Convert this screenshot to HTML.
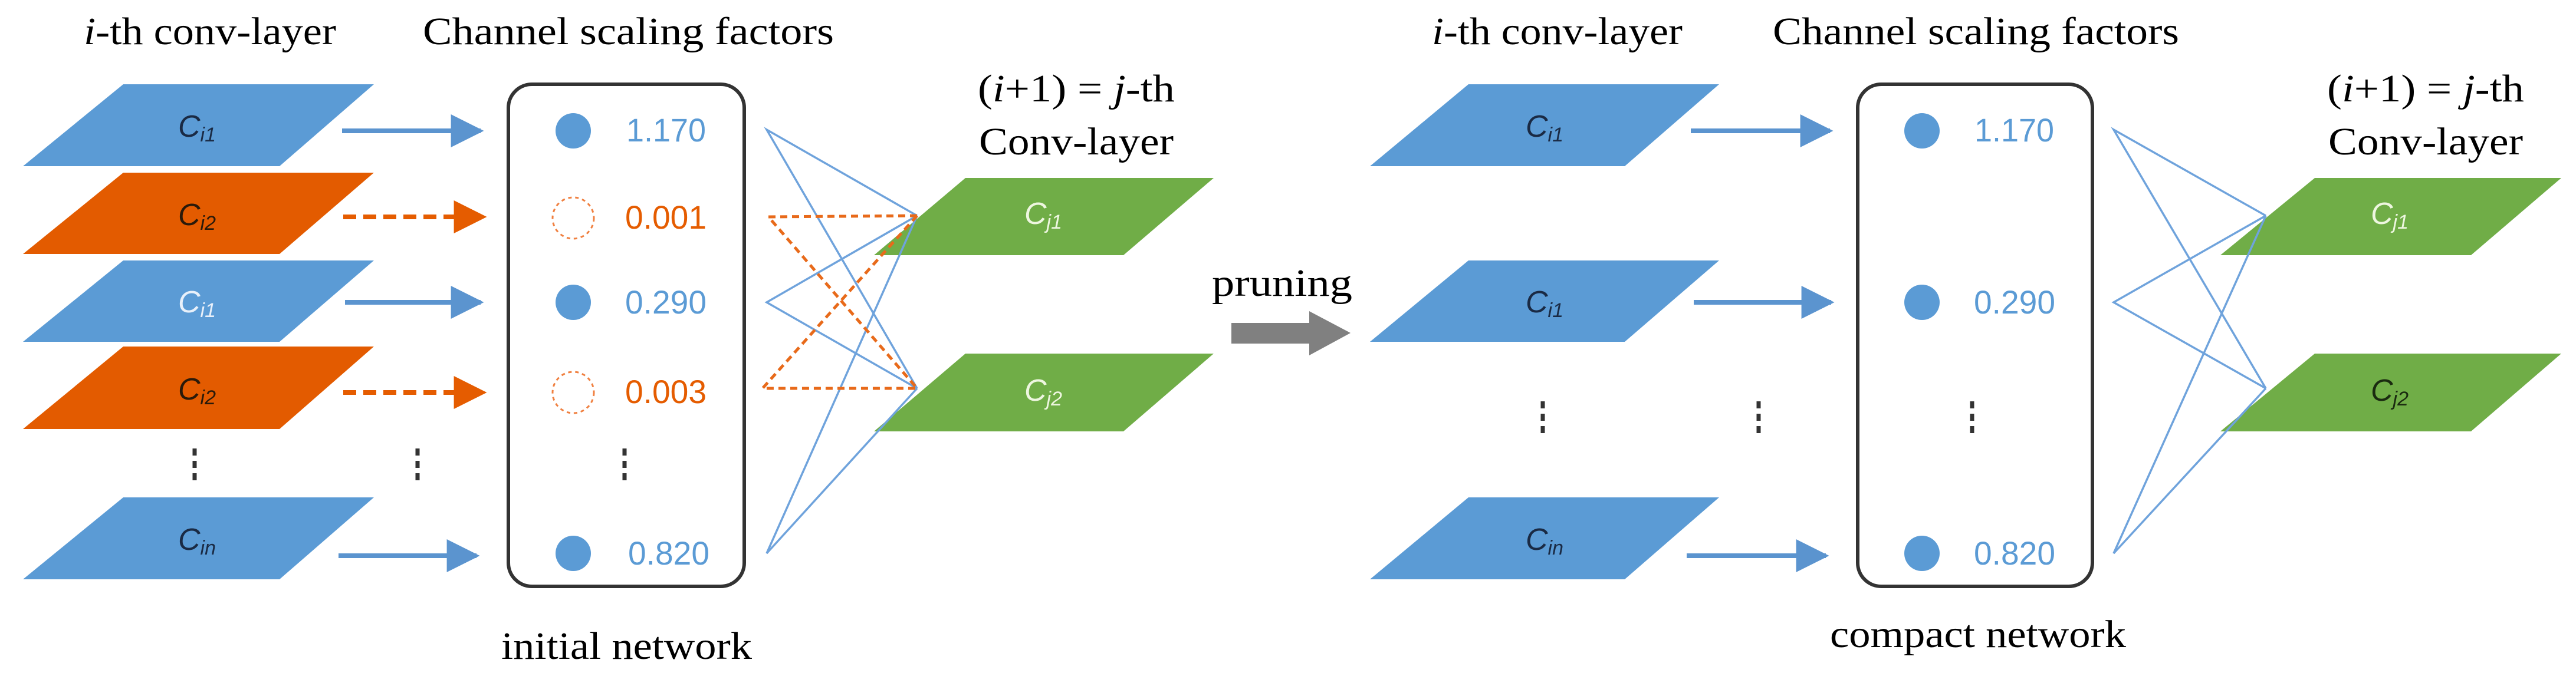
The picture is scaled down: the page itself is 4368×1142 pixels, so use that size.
<!DOCTYPE html>
<html><head><meta charset="utf-8"><style>html,body{margin:0;padding:0;background:#fff}svg{display:block}</style></head>
<body>
<svg width="4368" height="1142" viewBox="0 0 4368 1142" xmlns="http://www.w3.org/2000/svg" font-family="Liberation Serif, serif">
<defs>
<marker id="ab" viewBox="0 0 10 10" refX="9" refY="5" markerUnits="userSpaceOnUse" markerWidth="56" markerHeight="60" orient="auto"><path d="M0,0L10,5L0,10z" fill="#5b94cf"/></marker>
<marker id="ao" viewBox="0 0 10 10" refX="9" refY="5" markerUnits="userSpaceOnUse" markerWidth="56" markerHeight="60" orient="auto"><path d="M0,0L10,5L0,10z" fill="#e55c00"/></marker>
</defs>
<!-- titles -->
<g font-size="66" fill="#000">
<text x="142" y="75" textLength="428" lengthAdjust="spacingAndGlyphs"><tspan font-style="italic">i</tspan>-th conv-layer</text>
<text x="717" y="75" textLength="697" lengthAdjust="spacingAndGlyphs">Channel scaling factors</text>
<text x="1658" y="172" textLength="334" lengthAdjust="spacingAndGlyphs">(<tspan font-style="italic">i</tspan>+1) = <tspan font-style="italic">j</tspan>-th</text>
<text x="1660" y="262" textLength="330" lengthAdjust="spacingAndGlyphs">Conv-layer</text>
<text x="850" y="1118" textLength="425" lengthAdjust="spacingAndGlyphs">initial network</text>
<text x="2055" y="502" textLength="238" lengthAdjust="spacingAndGlyphs">pruning</text>
<text x="2428" y="75" textLength="425" lengthAdjust="spacingAndGlyphs"><tspan font-style="italic">i</tspan>-th conv-layer</text>
<text x="3006" y="75" textLength="689" lengthAdjust="spacingAndGlyphs">Channel scaling factors</text>
<text x="3946" y="172" textLength="334" lengthAdjust="spacingAndGlyphs">(<tspan font-style="italic">i</tspan>+1) = <tspan font-style="italic">j</tspan>-th</text>
<text x="3948" y="262" textLength="330" lengthAdjust="spacingAndGlyphs">Conv-layer</text>
<text x="3103" y="1098" textLength="502" lengthAdjust="spacingAndGlyphs">compact network</text>
</g>
<!-- left paras -->
<g>
<polygon points="209,143 634,143 474,282 39,282" fill="#5b9bd5"/>
<polygon points="209,293 634,293 474,431 39,431" fill="#e35b00"/>
<polygon points="209,442 634,442 474,580 39,580" fill="#5b9bd5"/>
<polygon points="209,588 634,588 474,728 39,728" fill="#e35b00"/>
<polygon points="209,844 634,844 474,983 39,983" fill="#5b9bd5"/>
<polygon points="1637,302 2058,302 1905,433 1482,433" fill="#70ad47"/>
<polygon points="1637,600 2058,600 1905,732 1482,732" fill="#70ad47"/>
<polygon points="2490,143 2915,143 2755,282 2323,282" fill="#5b9bd5"/>
<polygon points="2490,442 2915,442 2755,580 2323,580" fill="#5b9bd5"/>
<polygon points="2490,844 2915,844 2755,983 2323,983" fill="#5b9bd5"/>
<polygon points="3925,302 4343,302 4190,433 3765,433" fill="#70ad47"/>
<polygon points="3925,600 4343,600 4190,732 3765,732" fill="#70ad47"/>
</g>
<g font-family="Liberation Sans, sans-serif" font-style="italic" font-size="52" text-anchor="middle">
<text x="334" y="232" fill="#1a2a44">C<tspan font-size="34" dy="8">i1</tspan></text>
<text x="334" y="382" fill="#2a1a0a">C<tspan font-size="34" dy="8">i2</tspan></text>
<text x="334" y="530" fill="#e8f0fa">C<tspan font-size="34" dy="8">i1</tspan></text>
<text x="334" y="678" fill="#2a1a0a">C<tspan font-size="34" dy="8">i2</tspan></text>
<text x="334" y="933" fill="#1a2a44">C<tspan font-size="34" dy="8">in</tspan></text>
<text x="1769" y="380" fill="#eef6e0">C<tspan font-size="34" dy="8">j1</tspan></text>
<text x="1769" y="680" fill="#eef6e0">C<tspan font-size="34" dy="8">j2</tspan></text>
<text x="2619" y="232" fill="#1a2a44">C<tspan font-size="34" dy="8">i1</tspan></text>
<text x="2619" y="530" fill="#1a2a44">C<tspan font-size="34" dy="8">i1</tspan></text>
<text x="2619" y="933" fill="#1a2a44">C<tspan font-size="34" dy="8">in</tspan></text>
<text x="4052" y="380" fill="#eef6e0">C<tspan font-size="34" dy="8">j1</tspan></text>
<text x="4052" y="680" fill="#1a2a10">C<tspan font-size="34" dy="8">j2</tspan></text>
</g>
<!-- arrows -->
<g stroke-width="8">
<line x1="580" y1="222" x2="815" y2="222" stroke="#5b94cf" marker-end="url(#ab)"/>
<line x1="585" y1="513" x2="815" y2="513" stroke="#5b94cf" marker-end="url(#ab)"/>
<line x1="574" y1="943" x2="808" y2="943" stroke="#5b94cf" marker-end="url(#ab)"/>
<line x1="582" y1="368" x2="820" y2="368" stroke="#e55c00" stroke-dasharray="22,12" marker-end="url(#ao)"/>
<line x1="582" y1="666" x2="820" y2="666" stroke="#e55c00" stroke-dasharray="22,12" marker-end="url(#ao)"/>
<line x1="2867" y1="222" x2="3103" y2="222" stroke="#5b94cf" marker-end="url(#ab)"/>
<line x1="2872" y1="513" x2="3105" y2="513" stroke="#5b94cf" marker-end="url(#ab)"/>
<line x1="2860" y1="943" x2="3096" y2="943" stroke="#5b94cf" marker-end="url(#ab)"/>
</g>
<!-- pruning arrow -->
<polygon points="2088,548 2220,548 2220,528 2290,565 2220,603 2220,583 2088,583" fill="#808080"/>
<!-- vdots -->
<g stroke="#333" stroke-width="7" stroke-dasharray="12,9">
<line x1="330" y1="761" x2="330" y2="815"/><line x1="708" y1="761" x2="708" y2="815"/><line x1="1059" y1="761" x2="1059" y2="815"/>
<line x1="2616" y1="681" x2="2616" y2="735"/><line x1="2982" y1="681" x2="2982" y2="735"/><line x1="3344" y1="681" x2="3344" y2="735"/>
</g>
<!-- boxes -->
<rect x="862" y="143" width="400" height="852" rx="40" fill="none" stroke="#333" stroke-width="6"/>
<rect x="3150" y="143" width="398" height="852" rx="40" fill="none" stroke="#333" stroke-width="6"/>
<g fill="#5b9bd5">
<circle cx="972" cy="222" r="30"/><circle cx="972" cy="513" r="30"/><circle cx="972" cy="939" r="30"/>
<circle cx="3259" cy="222" r="30"/><circle cx="3259" cy="513" r="30"/><circle cx="3259" cy="939" r="30"/>
</g>
<g fill="none" stroke="#f08040" stroke-width="3" stroke-dasharray="6,6">
<circle cx="972" cy="370" r="35"/><circle cx="972" cy="666" r="35"/>
</g>
<g font-family="Liberation Sans, sans-serif" font-size="56">
<text x="1062" y="240" fill="#5b9bd5" textLength="135" lengthAdjust="spacingAndGlyphs">1.170</text>
<text x="1060" y="388" fill="#e55c00" textLength="138" lengthAdjust="spacingAndGlyphs">0.001</text>
<text x="1060" y="532" fill="#5b9bd5" textLength="138" lengthAdjust="spacingAndGlyphs">0.290</text>
<text x="1060" y="684" fill="#e55c00" textLength="138" lengthAdjust="spacingAndGlyphs">0.003</text>
<text x="1065" y="958" fill="#5b9bd5" textLength="138" lengthAdjust="spacingAndGlyphs">0.820</text>
<text x="3348" y="240" fill="#5b9bd5" textLength="135" lengthAdjust="spacingAndGlyphs">1.170</text>
<text x="3347" y="532" fill="#5b9bd5" textLength="138" lengthAdjust="spacingAndGlyphs">0.290</text>
<text x="3347" y="958" fill="#5b9bd5" textLength="138" lengthAdjust="spacingAndGlyphs">0.820</text>
</g>
<!-- connectors -->
<g stroke="#6fa3dc" stroke-width="3.5" fill="none">
<polyline points="1555,366 1300,220 1555,659"/>
<polyline points="1555,366 1300,513 1555,659"/>
<polyline points="1555,366 1300,939 1555,659"/>
<polyline points="3842,366 3584,220 3842,659"/>
<polyline points="3842,366 3584,513 3842,659"/>
<polyline points="3842,366 3584,939 3842,659"/>
</g>
<g stroke="#e86a1a" stroke-width="5" stroke-dasharray="12,8" fill="none">
<polyline points="1555,366 1303,368 1555,659"/>
<polyline points="1555,366 1293,659 1555,659"/>
</g>
</svg>
</body></html>
